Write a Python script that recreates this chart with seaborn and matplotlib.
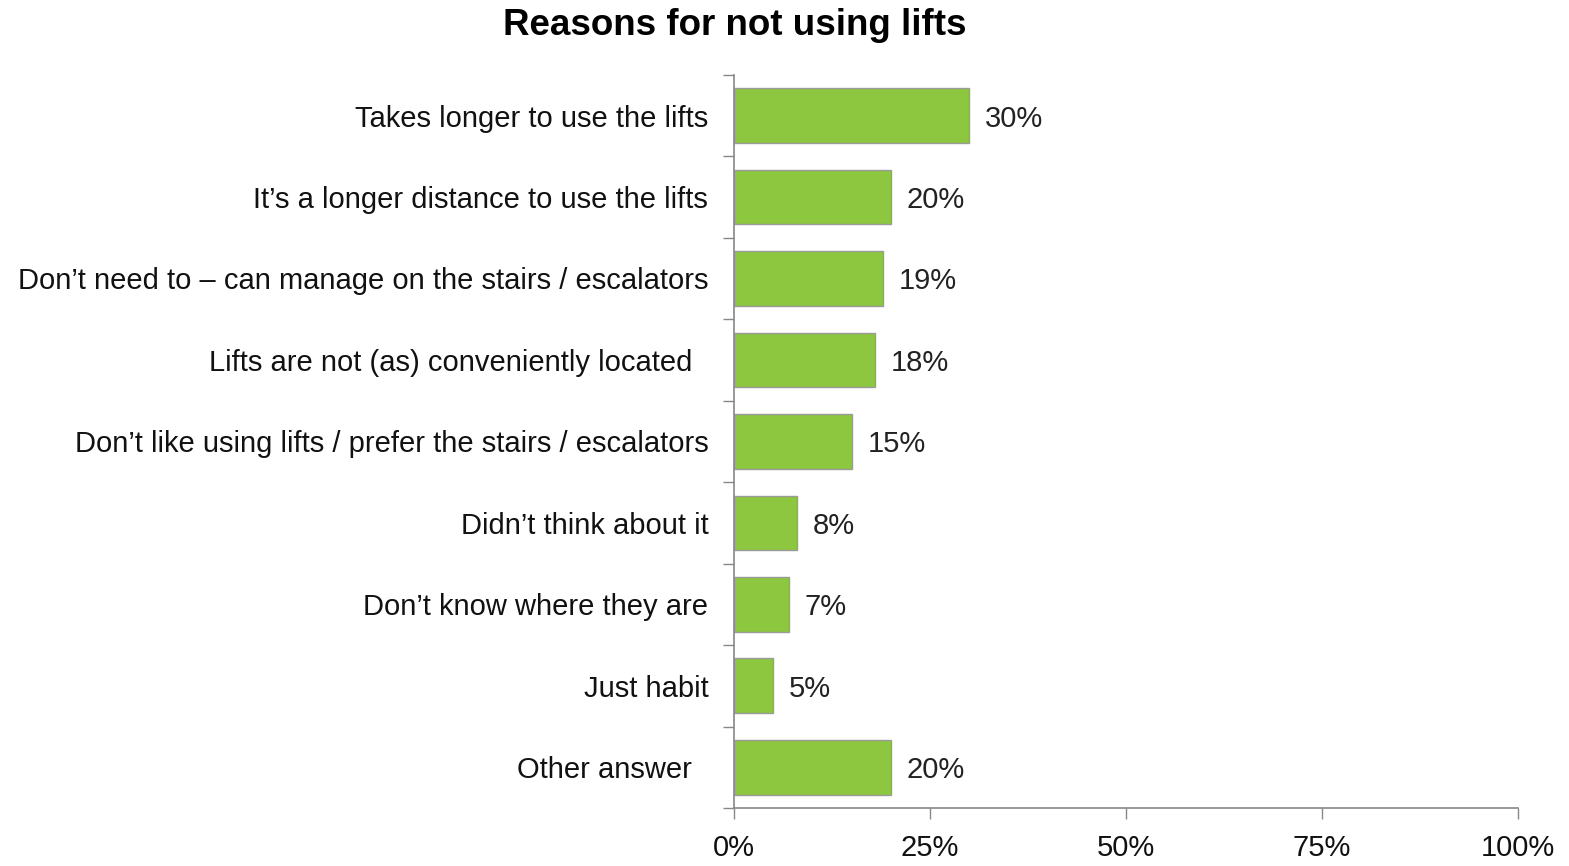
import numpy as np
import pandas as pd
import matplotlib
matplotlib.use("Agg")
import matplotlib.pyplot as plt
import seaborn as sns
from matplotlib.ticker import FixedLocator, PercentFormatter

reasons = [
    "Takes longer to use the lifts",
    "It\u2019s a longer distance to use the lifts",
    "Don\u2019t need to \u2013 can manage on the stairs / escalators",
    "Lifts are not (as) conveniently located  ",
    "Don\u2019t like using lifts / prefer the stairs / escalators",
    "Didn\u2019t think about it",
    "Don\u2019t know where they are",
    "Just habit",
    "Other answer  ",
]
shares = [30, 20, 19, 18, 15, 8, 7, 5, 20]
x_ticks = [0, 25, 50, 75, 100]

df = pd.DataFrame({"reason": reasons, "share": shares})

sns.set_style("white")
plt.rcParams["font.family"] = ["Liberation Sans", "DejaVu Sans"]

fig = plt.figure(figsize=(15.69, 8.66), dpi=100)
ax = fig.add_axes([0.4678, 0.067, 0.4997, 0.8466])

sns.barplot(
    data=df,
    x="share",
    y="reason",
    color="#8DC63F",
    saturation=1,
    width=0.67,
    edgecolor="#9a9a9a",
    linewidth=1,
    ax=ax,
)

# value labels next to each bar
for i, v in enumerate(shares):
    ax.text(v + 2.0, i, f"{v}%", va="center_baseline", ha="left", fontsize=21, color="#222222")

ax.set_xlim(0, 100)
ax.set_ylim(len(reasons) - 0.5, -0.5)
ax.xaxis.set_major_locator(FixedLocator(x_ticks))
ax.xaxis.set_major_formatter(PercentFormatter(decimals=0))

ax.set_yticks(range(len(reasons)))
ax.set_yticklabels(reasons)
ax.yaxis.set_minor_locator(FixedLocator(np.arange(-0.5, len(reasons), 1)))
ax.tick_params(axis="y", which="major", left=True, length=0, pad=18.5, labelsize=21, labelcolor="#111111")
ax.tick_params(axis="y", which="minor", left=True, length=8, width=1, color="#888888", direction="out")
ax.tick_params(axis="x", which="major", bottom=True, length=8, width=1, color="#888888", direction="out",
               pad=11, labelsize=21, labelcolor="#111111")

for side in ["top", "right"]:
    ax.spines[side].set_visible(False)
for side in ["left", "bottom"]:
    ax.spines[side].set_color("#888888")
    ax.spines[side].set_linewidth(1.2)

ax.set_xlabel("")
ax.set_ylabel("")

fig.text(0.468, 0.971, "Reasons for not using lifts", ha="center", va="center",
         fontsize=26.5, fontweight="bold", color="#000000")

fig.savefig("out.png", dpi=100)
